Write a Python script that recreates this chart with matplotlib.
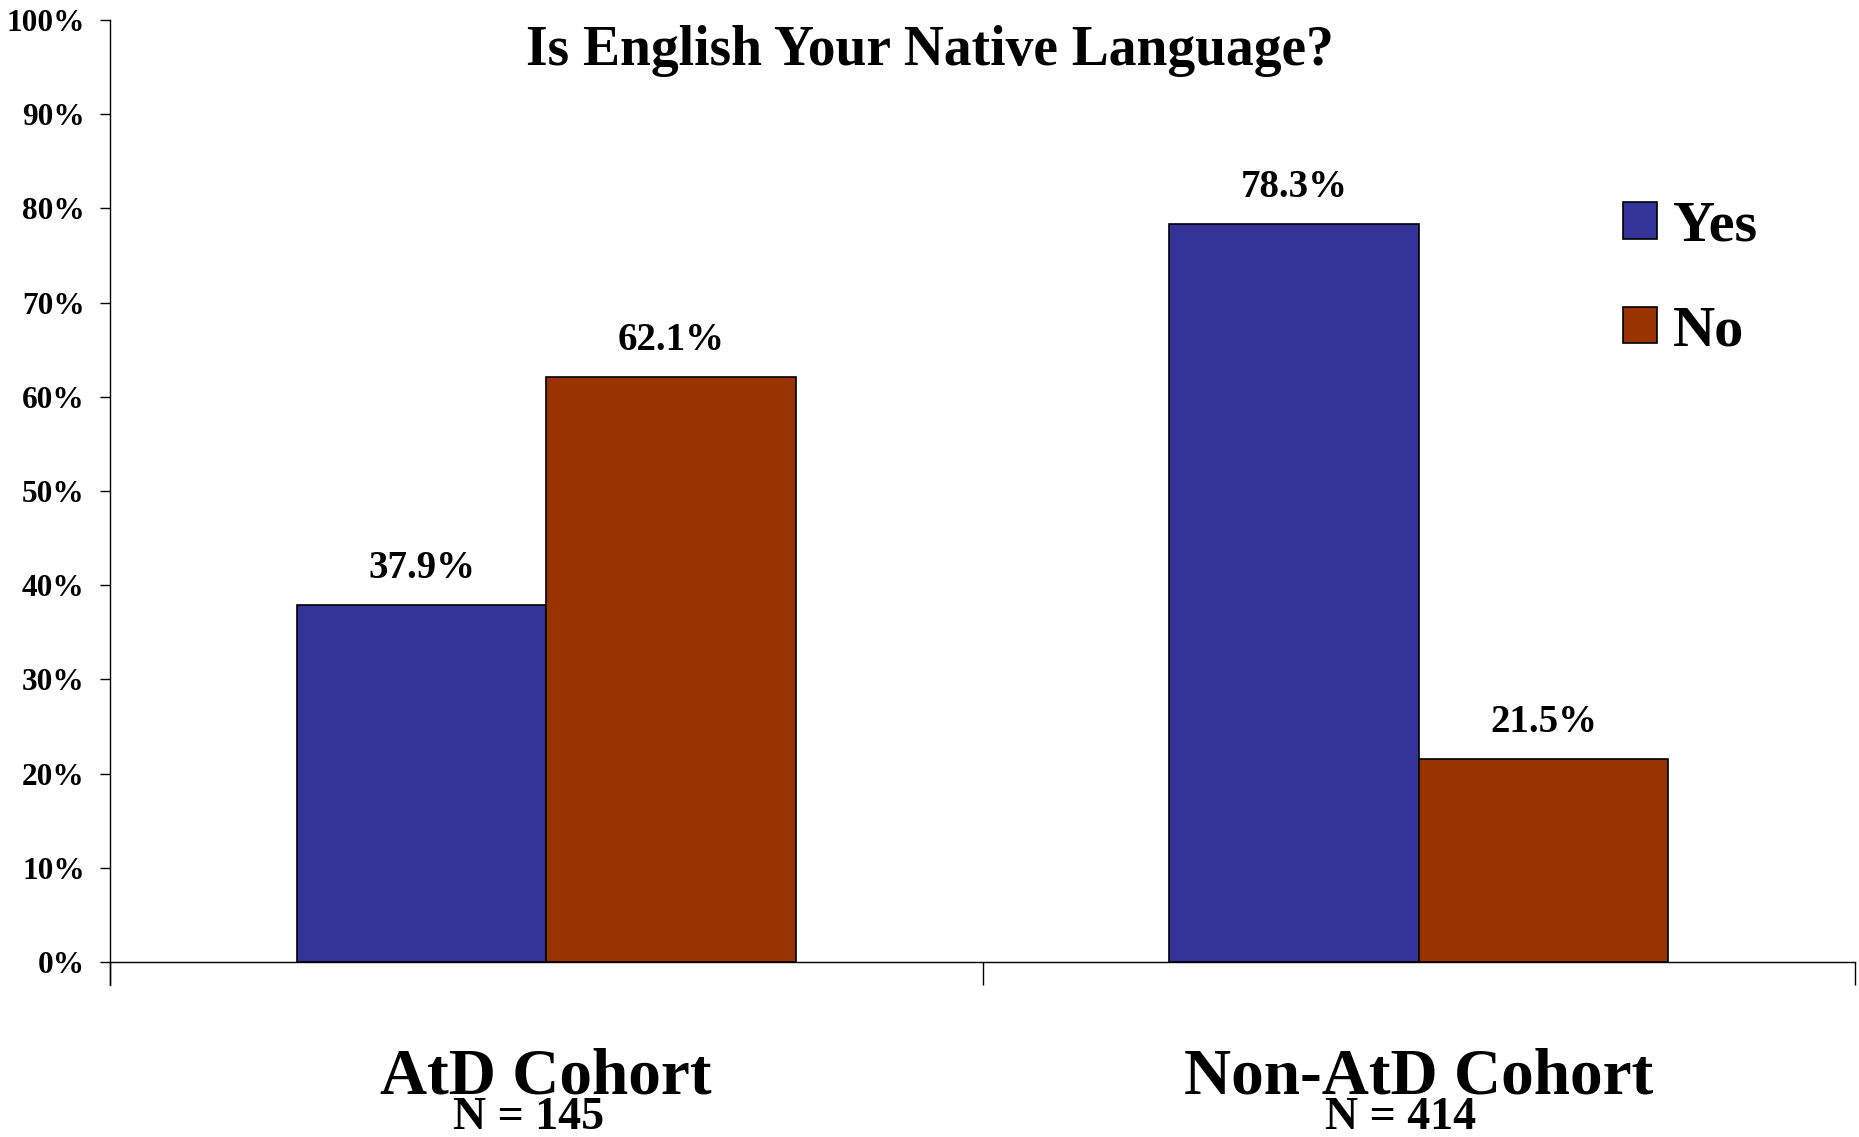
import matplotlib
matplotlib.use("Agg")
import matplotlib.pyplot as plt
from matplotlib.patches import Patch
import numpy as np

# Daten
cohorts = ["AtD Cohort", "Non-AtD Cohort"]
cohort_n = ["N = 145", "N = 414"]
yes_values = [37.9, 78.3]
no_values = [62.1, 21.5]
y_ticks = [0, 10, 20, 30, 40, 50, 60, 70, 80, 90, 100]

col_yes = "#333399"
col_no = "#993300"

plt.rcParams["font.family"] = ["Liberation Serif", "DejaVu Serif"]
plt.rcParams["font.weight"] = "bold"

fig = plt.figure(figsize=(18.59, 11.37), dpi=100)
ax = fig.add_axes([110 / 1859, 1 - 985 / 1137, 1745 / 1859, 965 / 1137])

x = np.arange(len(cohorts)) + 0.5
w = 0.286
b1 = ax.bar(x - w / 2, yes_values, w, color=col_yes, edgecolor="black", linewidth=1.2, label="Yes")
b2 = ax.bar(x + w / 2, no_values, w, color=col_no, edgecolor="black", linewidth=1.2, label="No")

for bars, vals in ((b1, yes_values), (b2, no_values)):
    for r, v in zip(bars, vals):
        ax.annotate(f"{v:.1f}%", (r.get_x() + r.get_width() / 2, v),
                    xytext=(0, 19.5), textcoords="offset points",
                    ha="center", va="baseline", fontsize=28, fontweight="bold")

ax.set_xlim(0, 2)
ax.set_ylim(-100 * 23 / 942, 100)
ax.set_yticks(y_ticks)
ax.set_yticklabels([f"{t}%" for t in y_ticks])
ax.set_xticks([0, 1, 2])
ax.set_xticklabels([])

ax.spines["top"].set_visible(False)
ax.spines["right"].set_visible(False)
ax.spines["bottom"].set_position(("data", 0))
for s in ("left", "bottom"):
    ax.spines[s].set_linewidth(1.0)

ax.tick_params(axis="y", direction="out", length=7.2, width=1.0, pad=11, labelsize=22.5)
ax.tick_params(axis="x", direction="out", length=16.6, width=1.0)

# Kategorien unter der Achse
for xi, name, n in zip(x, cohorts, cohort_n):
    ax.annotate(name, (xi, 0), xycoords=("data", "axes fraction"),
                xytext=(0, -78), textcoords="offset points",
                ha="center", va="baseline", fontsize=47, fontweight="bold",
                annotation_clip=False)
    ax.annotate(n, (xi, 0), xycoords=("data", "axes fraction"),
                xytext=(-13, -104), textcoords="offset points",
                ha="center", va="baseline", fontsize=33, fontweight="bold",
                annotation_clip=False)

fig.text(0.5, 1 - 65 / 1137, "Is English Your Native Language?",
         ha="center", va="baseline", fontsize=40, fontweight="bold")

handles = [Patch(facecolor=col_yes, edgecolor="black", linewidth=1.2),
           Patch(facecolor=col_no, edgecolor="black", linewidth=1.2)]
ax.legend(handles, ["Yes", "No"], loc="upper left",
          bbox_to_anchor=(1623 / 1859, 1 - 201 / 1137), bbox_transform=fig.transFigure,
          frameon=False, fontsize=42, handlelength=0.58, handleheight=0.58,
          handletextpad=0.28, labelspacing=0.9, borderpad=0, borderaxespad=0)

fig.savefig("out.png", dpi=100)
